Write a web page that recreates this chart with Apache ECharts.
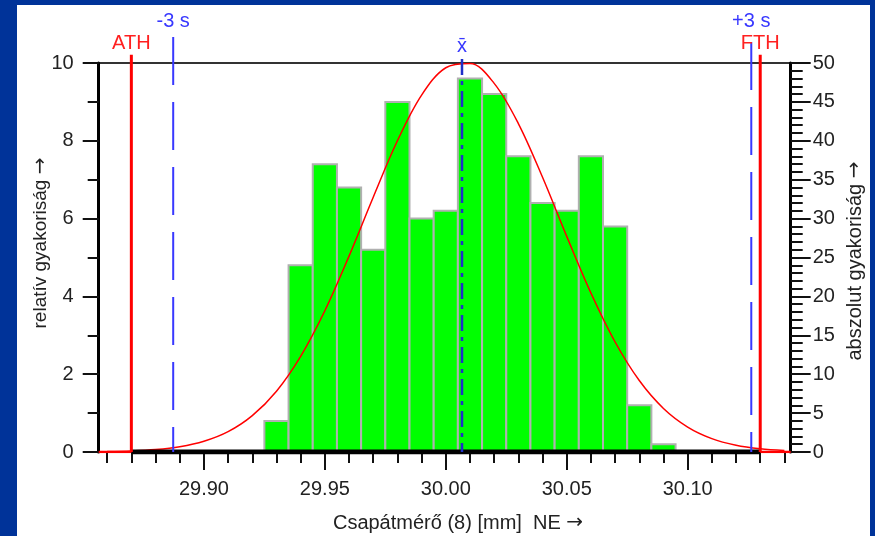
<!DOCTYPE html>
<html><head><meta charset="utf-8">
<script src="https://cdn.jsdelivr.net/npm/echarts@6/dist/echarts.min.js"></script>
<style>
html,body{margin:0;padding:0;background:#003399;width:875px;height:536px;overflow:hidden}
#chart{position:absolute;left:17px;top:5px;width:853px;height:531px;background:#ffffff}
</style></head><body><div id="chart"></div>
<script>
// ---- data ----
const binCenters = [29.93,29.94,29.95,29.96,29.97,29.98,29.99,30.00,30.01,30.02,30.03,30.04,30.05,30.06,30.07,30.08,30.09];
const absCounts  = [4,24,37,34,26,45,30,31,48,46,38,32,31,38,29,6,1];
const binWidth = 0.01;
const curveX = [29.86,29.87,29.88,29.89,29.90,29.91,29.92,29.93,29.94,29.95,29.96,29.97,29.98,29.99,30.00,30.01,30.02,30.03,30.04,30.05,30.06,30.07,30.08,30.09,30.10,30.11,30.12,30.13,30.14];
const curveY = [0.011,0.027,0.063,0.136,0.276,0.523,0.935,1.564,2.461,3.631,5.035,6.550,8.000,9.174,9.878,9.986,9.476,8.443,7.061,5.544,4.087,2.828,1.837,1.120,0.642,0.345,0.174,0.083,0.037];
const xMajorTicks = [29.90,29.95,30.00,30.05,30.10];
const xMinorTicks = [29.86,29.87,29.88,29.89,29.91,29.92,29.93,29.94,29.96,29.97,29.98,29.99,30.01,30.02,30.03,30.04,30.06,30.07,30.08,30.09,30.11,30.12,30.13,30.14];
const xMin = 29.8565, xMax = 30.1426;
const refNames  = ['ATH','-3 s','x\u0304','+3 s','FTH'];
const refValues = [29.87, 29.8873, 30.0067, 30.1263, 30.13];
const refTops   = [10.21, 10.67, 10.10, 10.54, 10.21];
const tolLow = 29.87, tolHigh = 30.13;
const xName = 'Csapátmérő (8) [mm]  NE ';
const yLeftName = 'relatív gyakoriság ';
const yRightName = 'abszolut gyakoriság ';

// ---- styles ----
const FONT = 'Liberation Sans, Arial, sans-serif';
const refStyles = [
  {color:'#ff0000', width:3, type:'solid', dist:1, labelColor:'#ff2020'},
  {color:'#3838ff', width:2, type:[48,17], dist:5, labelColor:'#3838ff'},
  {color:'#1f2fc8', width:2.5, type:[16,6,4,6], dist:3, labelColor:'#3838ff'},
  {color:'#3838ff', width:2, type:[48,17], dist:10, labelColor:'#3838ff'},
  {color:'#ff0000', width:3, type:'solid', dist:1, labelColor:'#ff2020'}
];
const arrowRich = {a:{fontFamily:'DejaVu Sans', fontSize:20, fill:'#222'}};

const chart = echarts.init(document.getElementById('chart'), null, {renderer:'canvas'});

const series = [];
series.push({
  type:'custom', xAxisIndex:0, yAxisIndex:1, z:3, clip:false,
  encode:{x:0, y:1},
  data: binCenters.map((c,i)=>[c, absCounts[i]]),
  renderItem(params, api){
    const c = api.value(0), v = api.value(1);
    const p0 = api.coord([c - binWidth/2, 0]);
    const p1 = api.coord([c + binWidth/2, v]);
    return {type:'rect', shape:{x:p0[0], y:p1[1], width:p1[0]-p0[0], height:p0[1]-p1[1]},
      style:{fill:'#00ff00', stroke:'#b0b0b0', lineWidth:2}};
  }
});
series.push({
  type:'line', xAxisIndex:0, yAxisIndex:0, z:4, smooth:0.35, showSymbol:false, symbol:'none',
  data: curveX.map((x,i)=>[x, curveY[i]]),
  lineStyle:{color:'#ff0000', width:1.5}
});
series.push({
  type:'line', xAxisIndex:0, yAxisIndex:0, z:5, symbol:'none',
  data:[[tolLow,0],[tolHigh,0]],
  lineStyle:{color:'#000000', width:5}
});
series.push({
  type:'line', xAxisIndex:0, yAxisIndex:0, z:6, symbol:'none',
  data:[[xMin,0],[tolLow,0]], lineStyle:{color:'#ff0000', width:2.5}
});
series.push({
  type:'line', xAxisIndex:0, yAxisIndex:0, z:6, symbol:'none',
  data:[[tolHigh,0],[xMax,0]], lineStyle:{color:'#ff0000', width:2.5}
});
refValues.forEach((v,i)=>{
  const st = refStyles[i];
  series.push({
    type:'line', xAxisIndex:0, yAxisIndex:0, z:7 + (i===0||i===4?1:0), clip:false,
    symbol:'circle', symbolSize:0.1, showSymbol:true, showAllSymbol:true,
    itemStyle:{color:st.color},
    lineStyle:{color:st.color, width:st.width, type:st.type},
    data:[
      {value:[v, refTops[i]], label:{show:true, position:'top', distance:st.dist,
        formatter:refNames[i], color:st.labelColor, fontSize:20, fontFamily:FONT}},
      {value:[v, 0], label:{show:false}}
    ]
  });
});

const option = {
  animation:false,
  textStyle:{fontFamily:FONT},
  grid:{left:81.7, right:79.3, top:58, bottom:84, show:true, borderColor:'#333333', borderWidth:2, backgroundColor:'transparent'},
  xAxis:[
    {type:'value', min:xMin, max:xMax, position:'bottom', z:4,
     axisLine:{show:true, onZero:false, lineStyle:{color:'#000', width:2}},
     axisTick:{show:true, customValues:xMajorTicks, length:18, lineStyle:{color:'#111', width:2}},
     axisLabel:{show:true, customValues:xMajorTicks, formatter:(v)=>Number(v).toFixed(2),
       fontSize:20, color:'#222', margin:27, fontFamily:FONT},
     splitLine:{show:false}},
    {type:'value', min:xMin, max:xMax, position:'bottom', z:4,
     axisLine:{show:false, onZero:false},
     axisTick:{show:true, customValues:xMinorTicks, length:11, lineStyle:{color:'#111', width:2}},
     axisLabel:{show:false}, splitLine:{show:false}}
  ],
  yAxis:[
    {type:'value', min:0, max:10, interval:2, position:'left', z:6,
     axisLine:{show:true, onZero:false, lineStyle:{color:'#000', width:3}},
     axisTick:{show:true, length:16, lineStyle:{color:'#111', width:2}},
     minorTick:{show:true, splitNumber:2, length:11, lineStyle:{color:'#111', width:2}},
     axisLabel:{fontSize:20, color:'#222', margin:25, fontFamily:FONT},
     splitLine:{show:false}},
    {type:'value', min:0, max:50, interval:5, position:'right', z:6,
     axisLine:{show:true, onZero:false, lineStyle:{color:'#000', width:3}},
     axisTick:{show:true, length:20, lineStyle:{color:'#111', width:2}},
     minorTick:{show:true, splitNumber:5, length:12, lineStyle:{color:'#111', width:2}},
     axisLabel:{fontSize:20, color:'#222', margin:22, fontFamily:FONT},
     splitLine:{show:false}}
  ],
  graphic:[
    {type:'text', x:441, y:518, style:{text:xName + '{a|→}', rich:arrowRich, align:'center', verticalAlign:'middle', fontSize:20, fill:'#222', fontFamily:FONT}},
    {type:'text', x:24, y:238, rotation:Math.PI/2, style:{text:yLeftName + '{a|→}', rich:arrowRich, align:'center', verticalAlign:'middle', fontSize:19, fill:'#222', fontFamily:FONT}},
    {type:'text', x:838, y:256, rotation:Math.PI/2, style:{text:yRightName + '{a|→}', rich:arrowRich, align:'center', verticalAlign:'middle', fontSize:20, fill:'#222', fontFamily:FONT}}
  ],
  series
};
chart.setOption(option);
</script></body></html>
